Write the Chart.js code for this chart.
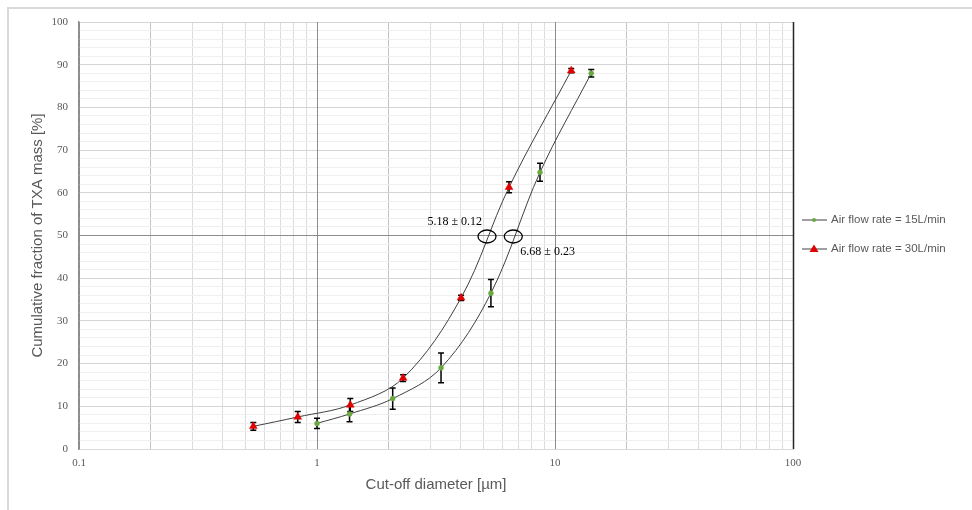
<!DOCTYPE html>
<html>
<head>
<meta charset="utf-8">
<script src="https://cdn.jsdelivr.net/npm/chart.js@4/dist/chart.umd.min.js"></script>
<style>
  html, body { margin: 0; padding: 0; background: #fff; }
  #wrap { position: relative; width: 972px; height: 510px; }
</style>
</head>
<body>
<div id="wrap"><canvas id="myChart"></canvas></div>
<script>
// values
const flow15X = [1.0, 1.37, 2.08, 3.32, 5.38, 8.65, 14.2];
const flow15Y = [6.0, 8.2, 11.8, 19.0, 36.5, 64.8, 88.0];
const flow15Err = [1.2, 1.8, 2.5, 3.5, 3.2, 2.1, 0.9];

const flow30X = [0.54, 0.83, 1.38, 2.30, 4.03, 6.41, 11.7];
const flow30Y = [5.3, 7.5, 10.3, 16.6, 35.4, 61.3, 88.6];
const flow30Err = [0.9, 1.3, 1.5, 0.8, 0.6, 1.3, 0.5];

const seriesLabels = ['Air flow rate = 15L/min', 'Air flow rate = 30L/min'];

const xTicks = [0.1, 0.2, 0.3, 0.4, 0.5, 0.6, 0.7, 0.8, 0.9,
                1, 2, 3, 4, 5, 6, 7, 8, 9,
                10, 20, 30, 40, 50, 60, 70, 80, 90, 100];
const xTickLabels = {0.1: '0.1', 1: '1', 10: '10', 100: '100'};
const xDecades = [1, 10, 100];

// d50 cut-off diameters marked on the chart
const cutX = [5.18, 6.68];
const cutLabels = ['5.18 \u00b1 0.12', '6.68 \u00b1 0.23'];
const cutY = 50;

function pts(xs, ys) {
    return xs.map((x, i) => ({x: x, y: ys[i]}));
}

const errBars = {
    id: 'errBars',
    beforeDatasetsDraw(chart) {
        const ctx = chart.ctx;
        const xs = chart.scales.x, ys = chart.scales.y;
        const area = chart.chartArea;
        ctx.save();
        // keep the decade lines on top of the light horizontal grid
        xDecades.forEach(v => {
            const px = Math.round(xs.getPixelForValue(v)) + 0.5;
            ctx.strokeStyle = v === 100 ? '#262626' : '#8c8c8c';
            ctx.lineWidth = v === 100 ? 1.5 : 1;
            ctx.beginPath();
            ctx.moveTo(px, area.top); ctx.lineTo(px, area.bottom);
            ctx.stroke();
        });

        const errs = [flow15Err, flow30Err];
        ctx.strokeStyle = '#000';
        ctx.lineWidth = 1.5;
        chart.data.datasets.forEach((ds, di) => {
            ds.data.forEach((p, i) => {
                const px = xs.getPixelForValue(p.x);
                const top = ys.getPixelForValue(p.y + errs[di][i]);
                const bot = ys.getPixelForValue(p.y - errs[di][i]);
                ctx.beginPath();
                ctx.moveTo(px, top); ctx.lineTo(px, bot);
                ctx.moveTo(px - 3, top); ctx.lineTo(px + 3, top);
                ctx.moveTo(px - 3, bot); ctx.lineTo(px + 3, bot);
                ctx.stroke();
            });
        });
        ctx.restore();
    }
};

const extras = {
    id: 'extras',
    beforeDraw(chart) {
        const ctx = chart.ctx;
        ctx.save();
        ctx.fillStyle = '#fff';
        ctx.fillRect(0, 0, chart.width, chart.height);
        // outer frame
        ctx.strokeStyle = '#d9d9d9';
        ctx.lineWidth = 2;
        ctx.beginPath();
        ctx.moveTo(8, chart.height);
        ctx.lineTo(8, 8);
        ctx.lineTo(chart.width, 8);
        ctx.stroke();
        ctx.restore();
    },
    afterDraw(chart) {
        const ctx = chart.ctx;
        const xs = chart.scales.x, ys = chart.scales.y;
        ctx.save();
        // ellipses + labels
        ctx.strokeStyle = '#000';
        ctx.lineWidth = 1.3;
        ctx.fillStyle = '#000';
        ctx.font = '12px "Liberation Serif", serif';
        ctx.textBaseline = 'middle';
        cutX.forEach((v, i) => {
            const cx = xs.getPixelForValue(v);
            const cy = ys.getPixelForValue(cutY);
            ctx.beginPath();
            ctx.ellipse(cx, cy + 1, 9, 6.5, 0, 0, Math.PI * 2);
            ctx.stroke();
            if (i === 0) {
                ctx.textAlign = 'right';
                ctx.fillText(cutLabels[i], cx - 5, cy - 14);
            } else {
                ctx.textAlign = 'left';
                ctx.fillText(cutLabels[i], cx + 7, cy + 16);
            }
        });

        // legend
        ctx.font = '11.5px "Liberation Sans", Arial, sans-serif';
        ctx.textAlign = 'left';
        const rows = [220, 249];
        chart.data.datasets.forEach((ds, i) => {
            const y = rows[i];
            ctx.strokeStyle = '#404040';
            ctx.lineWidth = 1;
            ctx.beginPath();
            ctx.moveTo(802, y); ctx.lineTo(827, y);
            ctx.stroke();
            ctx.fillStyle = ds.pointBackgroundColor;
            ctx.beginPath();
            if (ds.pointStyle === 'triangle') {
                ctx.moveTo(814, y - 4.5);
                ctx.lineTo(818.5, y + 3);
                ctx.lineTo(809.5, y + 3);
                ctx.closePath();
            } else {
                ctx.arc(814, y, 2, 0, Math.PI * 2);
            }
            ctx.fill();
            ctx.fillStyle = '#595959';
            ctx.fillText(ds.label, 831, y);
        });
        ctx.restore();
    }
};

var ctx = document.getElementById('myChart').getContext('2d');
var chart = new Chart(ctx, {
    type: 'scatter',
    data: {
        datasets: [{
                label: seriesLabels[0],
                data: pts(flow15X, flow15Y),
                showLine: true,
                tension: 0.35,
                borderColor: '#404040',
                borderWidth: 1,
                pointStyle: 'circle',
                pointRadius: 2.5,
                pointBackgroundColor: '#6aa842',
                pointBorderColor: '#6aa842',
                pointBorderWidth: 0.5
            },
            {
                label: seriesLabels[1],
                data: pts(flow30X, flow30Y),
                showLine: true,
                tension: 0.35,
                borderColor: '#404040',
                borderWidth: 1,
                pointStyle: 'triangle',
                pointRadius: 4.5,
                pointBackgroundColor: '#e00000',
                pointBorderColor: '#e00000',
                pointBorderWidth: 0.5
            }
        ]
    },
    options: {
        responsive: true,
        maintainAspectRatio: false,
        animation: false,
        events: [],
        layout: { padding: { left: 0, right: 179, top: 22, bottom: 0 } },
        plugins: {
            legend: { display: false },
            tooltip: { enabled: false }
        },
        scales: {
            x: {
                type: 'logarithmic',
                min: 0.1,
                max: 100,
                afterBuildTicks(scale) {
                    scale.ticks = xTicks.map(v => ({value: v}));
                },
                afterFit(scale) { scale.height = 61; },
                ticks: {
                    autoSkip: false,
                    maxRotation: 0,
                    padding: 8,
                    color: '#595959',
                    font: { family: '"Liberation Serif", serif', size: 11 },
                    callback: (v) => xTickLabels[v] || ''
                },
                grid: {
                    drawTicks: false,
                    color: (c) => {
                        const v = c.tick ? c.tick.value : 0;
                        if (v === 0.1 || v === 1 || v === 10 || v === 100) return '#8c8c8c';
                        if (v === 0.2 || v === 2 || v === 20) return '#c4c4c4';
                        return '#dcdcdc';
                    }
                },
                border: { color: '#d9d9d9', width: 1 },
                title: {
                    display: true,
                    text: 'Cut-off diameter [\u00b5m]',
                    color: '#595959',
                    font: { family: '"Liberation Sans", Arial, sans-serif', size: 15 },
                    padding: { top: 0, bottom: 16 }
                }
            },
            y: {
                min: 0,
                max: 100,
                afterFit(scale) { scale.width = 79; },
                ticks: {
                    stepSize: 2,
                    autoSkip: false,
                    padding: 11,
                    color: '#595959',
                    font: { family: '"Liberation Serif", serif', size: 11 },
                    callback: (v) => v % 10 === 0 ? v : ''
                },
                grid: {
                    drawTicks: false,
                    color: (c) => {
                        const v = c.tick ? c.tick.value : 0;
                        if (v === 50) return '#8c8c8c';
                        if (v % 10 === 0) return '#d4d4d4';
                        return '#efefef';
                    }
                },
                border: { color: '#8c8c8c', width: 1.5 },
                title: {
                    display: true,
                    text: 'Cumulative fraction of TXA mass [%]',
                    color: '#595959',
                    font: { family: '"Liberation Sans", Arial, sans-serif', size: 15 },
                    padding: { top: 29, bottom: 0 }
                }
            }
        }
    },
    plugins: [errBars, extras]
});
</script>
</body>
</html>
